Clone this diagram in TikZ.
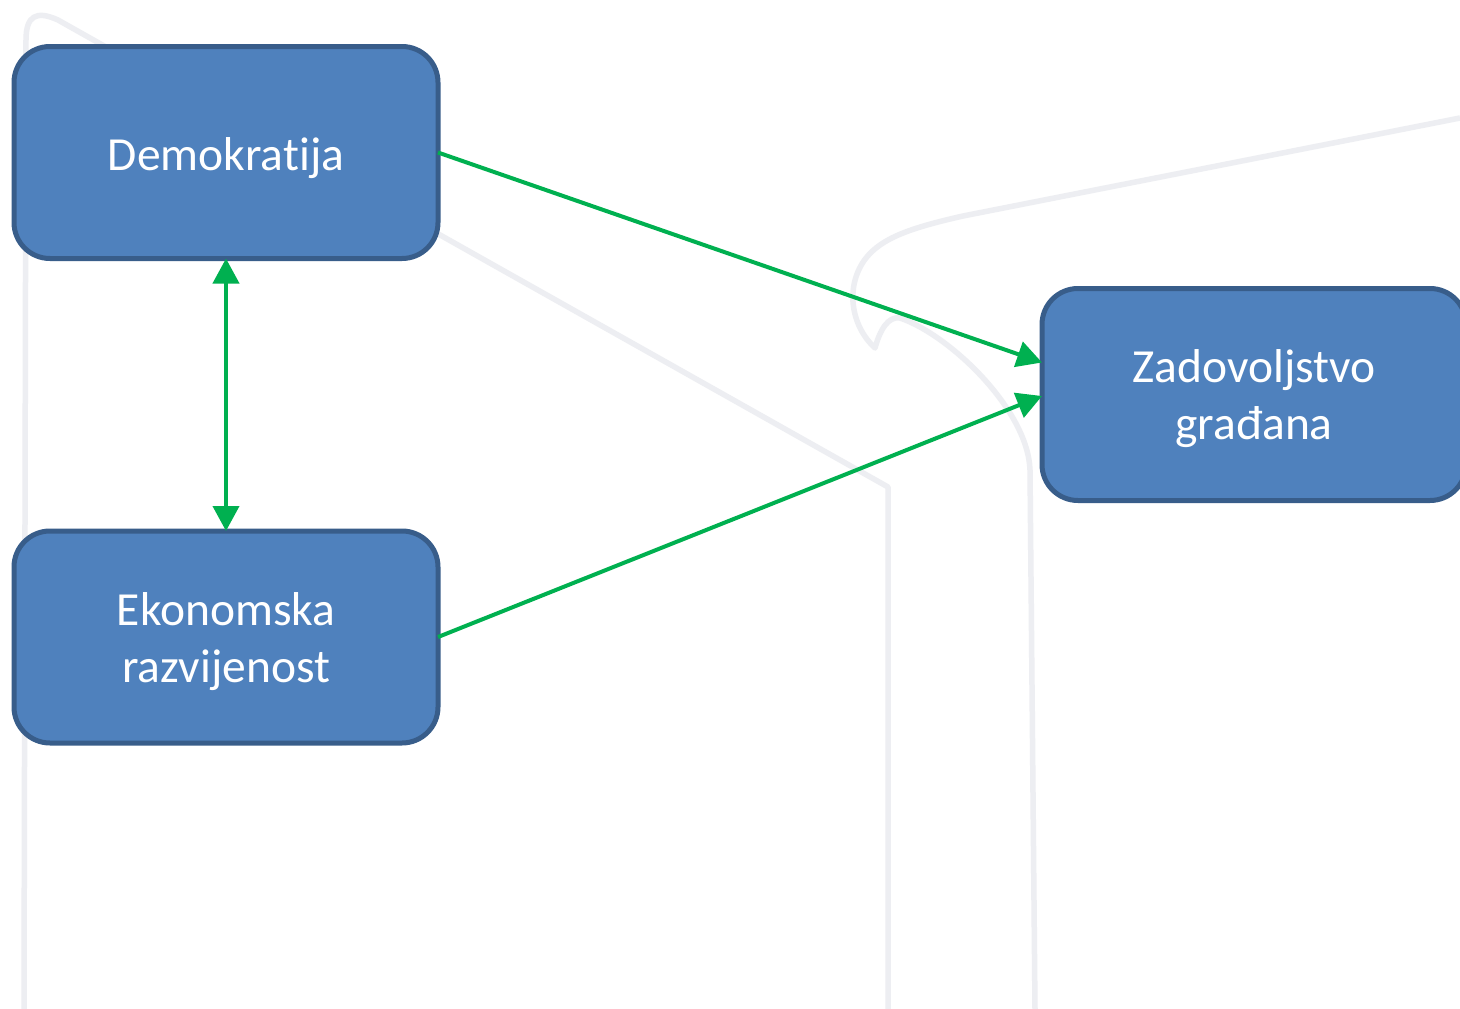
\documentclass[tikz,border=0pt]{standalone}
\usepackage{fontspec}
\setmainfont[RawFeature={-liga;-clig}]{Carlito}
\usetikzlibrary{arrows.meta,calc}
\definecolor{boxfill}{HTML}{4F81BD}
\definecolor{boxline}{HTML}{385D8A}
\definecolor{arrowgreen}{HTML}{00B050}
\definecolor{ghost}{HTML}{EDEEF2}
\newcommand{\boxtext}[2][5.5pt]{\raisebox{-#1}[\height][\depth]{\begin{tabular}{@{}c@{}}#2\end{tabular}}}
\tikzset{
  box/.style={draw=boxline,fill=boxfill,line width=5pt,rounded corners=36pt,
    minimum width=424pt,minimum height=212pt,inner sep=0pt,outer sep=0pt,align=center,
    text=white,font=\fontsize{47.5}{57}\selectfont},
  link/.style={draw=arrowgreen,line width=4pt,-{Triangle[length=25pt,width=26pt]}},
  biglink/.style={draw=arrowgreen,line width=4pt,{Triangle[length=25pt,width=26pt]}-{Triangle[length=25pt,width=26pt]}},
  ghostline/.style={draw=ghost,line width=5.5pt,line join=round}
}
\begin{document}
\begin{tikzpicture}[x=1pt,y=-1pt]
\useasboundingbox (0,0) rectangle (1460,1009);
\clip (0,0) rectangle (1460,1009);
\fill[white] (0,0) rectangle (1460,1009);
% faint background outline
\draw[ghostline] (24,1009) -- (26,40) .. controls (26,16) and (36,10) .. (58,20) -- (888,487) -- (888,1009);
\draw[ghostline] (1035,1009) -- (1030,470) .. controls (1028,410) and (950,335) .. (900,318)
  .. controls (888,316) and (880,330) .. (875,348)
  .. controls (850,325) and (845,285) .. (866,258)
  .. controls (882,238) and (910,228) .. (963,216) -- (1460,118);
\node[box] (dem) at (226,152.5) {\boxtext[6.5pt]{Demokratija}};
\node[box] (eko) at (226,637) {\boxtext{Ekonomska\\razvijenost}};
\node[box] (zad) at (1254,394.5) {\boxtext{Zadovoljstvo\\građana}};
\draw[biglink] (dem.south) -- (eko.north);
\draw[link] (dem.east) -- ([yshift=32pt]zad.west);
\draw[link] (eko.east) -- ([yshift=-1.5pt]zad.west);
\end{tikzpicture}
\end{document}
